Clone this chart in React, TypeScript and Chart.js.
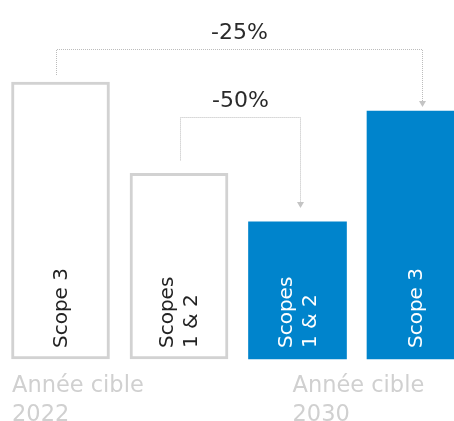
import { useEffect, useRef } from "react";
import { Chart, registerables } from "chart.js";

Chart.register(...registerables);

// ---- data ----
const categories = ["Scope 3 (2022)", "Scopes 1 & 2 (2022)", "Scopes 1 & 2 (2030)", "Scope 3 (2030)"];
const values = [100, 67, 49.5, 89.5];
const barLabels = [["Scope 3"], ["Scopes", "1 & 2"], ["Scopes", "1 & 2"], ["Scope 3"]];
const yearLabels = [["Année cible", "2022"], ["Année cible", "2030"]];
const reductions = ["-25%", "-50%"];

const FONT = '"DejaVu Sans", sans-serif';
const GREY = "#d2d2d2";
const BLUE = "#0084cc";
const DOT = "#bcbcbc";

function dottedLine(ctx: CanvasRenderingContext2D, pts: [number, number][]) {
  ctx.save();
  ctx.strokeStyle = DOT;
  ctx.lineWidth = 1;
  ctx.setLineDash([1, 1]);
  ctx.beginPath();
  ctx.moveTo(pts[0][0], pts[0][1]);
  for (let i = 1; i < pts.length; i++) ctx.lineTo(pts[i][0], pts[i][1]);
  ctx.stroke();
  ctx.restore();
}

function arrow(ctx: CanvasRenderingContext2D, x: number, tipY: number) {
  ctx.save();
  ctx.fillStyle = "#c4c4c4";
  ctx.beginPath();
  ctx.moveTo(x - 3.5, tipY - 6);
  ctx.lineTo(x + 3.5, tipY - 6);
  ctx.lineTo(x, tipY);
  ctx.closePath();
  ctx.fill();
  ctx.restore();
}

export default function App() {
  const ref = useRef<HTMLCanvasElement>(null);

  useEffect(() => {
    const annot = {
      id: "annot",
      afterDatasetsDraw(chart: any) {
        const ctx: CanvasRenderingContext2D = chart.ctx;
        const bars = chart.getDatasetMeta(0).data as any[];
        const xs = bars.map((b) => b.x);
        const tops = bars.map((b) => b.y);
        const base = bars[0].base;

        // bar labels (rotated)
        ctx.save();
        ctx.font = `20px ${FONT}`;
        bars.forEach((b, i) => {
          const lines = barLabels[i];
          ctx.save();
          ctx.translate(xs[i], base - 11);
          ctx.rotate(-Math.PI / 2);
          ctx.fillStyle = i < 2 ? "#222222" : "#ffffff";
          ctx.textAlign = "left";
          ctx.textBaseline = "middle";
          const lh = 24;
          lines.forEach((t, j) => {
            const off = (j - (lines.length - 1) / 2) * lh;
            ctx.fillText(t, 0, off + 1);
          });
          ctx.restore();
        });
        ctx.restore();

        // connectors
        const c25 = { xl: xs[0] - 5, xr: xs[3] + 6, y: 49, yl: tops[0] - 7, yr: tops[3] - 4 };
        const c50 = { xl: xs[1] + 1, xr: xs[2] + 2, y: 117, yl: tops[1] - 13, yr: tops[2] - 14 };
        [c25, c50].forEach((c, k) => {
          const xl = Math.round(c.xl) + 0.5;
          const xr = Math.round(c.xr) + 0.5;
          const y = c.y + 0.5;
          dottedLine(ctx, [
            [xl, c.yl],
            [xl, y],
            [xr, y],
            [xr, c.yr - 5],
          ]);
          arrow(ctx, xr, c.yr);
          ctx.save();
          ctx.font = `22px ${FONT}`;
          ctx.fillStyle = "#2a2a2a";
          ctx.textAlign = "center";
          ctx.textBaseline = "alphabetic";
          ctx.fillText(reductions[k], (xl + xr) / 2, c.y - 10);
          ctx.restore();
        });

        // year labels
        ctx.save();
        ctx.font = `22.5px ${FONT}`;
        ctx.fillStyle = "#d0d0d0";
        ctx.textAlign = "left";
        ctx.textBaseline = "alphabetic";
        const lx = [xs[0] - 48.5, xs[2] - 5];
        yearLabels.forEach((ls, k) => {
          ls.forEach((t, j) => {
            ctx.fillText(t, lx[k], base + 33 + j * 28.5);
          });
        });
        ctx.restore();
      },
    };

    const chart = new Chart(ref.current!, {
      type: "bar",
      data: {
        labels: categories,
        datasets: [
          {
            data: values,
            backgroundColor: ["#ffffff", "#ffffff", BLUE, BLUE],
            borderColor: [GREY, GREY, BLUE, BLUE],
            borderWidth: [3, 3, 0, 0],
            borderSkipped: false,
            barThickness: 98,
            clip: false as any,
          },
        ],
      },
      options: {
        responsive: false,
        animation: false,
        layout: { padding: { left: 1.25, right: 44.75, top: 82, bottom: 62 } },
        plugins: { legend: { display: false }, tooltip: { enabled: false } },
        scales: {
          x: { display: false, offset: true, grid: { display: false } },
          y: { display: false, min: 0, max: 100, grid: { display: false } },
        },
      },
      plugins: [annot],
    });
    return () => chart.destroy();
  }, []);

  return (
    <div
      style={{
        position: "absolute",
        left: 0,
        top: 0,
        width: 454,
        height: 421,
        overflow: "hidden",
        background: "#ffffff",
      }}
    >
      <canvas ref={ref} width={520} height={421} style={{ display: "block" }} />
    </div>
  );
}
